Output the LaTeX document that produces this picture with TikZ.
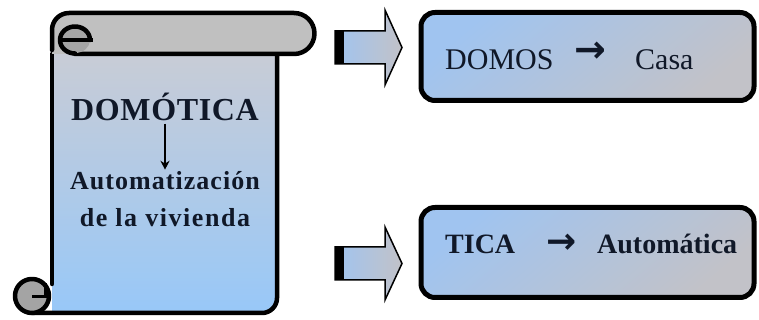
\documentclass[tikz,border=0pt]{standalone}
\usepackage{fontspec}
\setmainfont{Liberation Serif}
\newfontfamily\symfont{DejaVu Sans}
\usepackage{tikz}
\usetikzlibrary{arrows.meta, positioning}
\definecolor{rollgray}{HTML}{C0C0C0}
\definecolor{curlgray}{HTML}{A4A4A4}
\definecolor{bodytop}{HTML}{C8CCD6}
\definecolor{bodybot}{HTML}{98C8F8}
\definecolor{boxblue}{HTML}{A0C4F0}
\definecolor{boxgray}{HTML}{C2C2C8}
\definecolor{ink}{HTML}{101828}
\tikzset{
    scrollline/.style={line width=4.5pt, line join=round, line cap=round},
    textbox/.style={rectangle, rounded corners=14pt, line width=5pt, draw=black, top color=boxblue, middle color=boxgray, bottom color=boxgray, shading angle=40, minimum width=333pt, minimum height=88pt},
    blockarrow/.style={draw=black, line width=1.5pt, line join=miter, left color=boxblue, right color=boxgray},
    word/.style={inner sep=2pt, text=ink},
}

\begin{document}
\begin{tikzpicture}[x=1pt,y=1pt]
  \useasboundingbox (0,0) rectangle (759,320);

  % scroll body
  \fill[top color=bodytop, bottom color=bodybot] (52,266) -- (52,7) -- (262,7) arc[start angle=-90,end angle=0,radius=15] -- (277,266) -- cycle;
  \draw[scrollline] (52,266) -- (52,36);
  \draw[scrollline] (32,7) -- (262,7) arc[start angle=-90,end angle=0,radius=15] -- (277,266);
  % bottom curl
  \draw[scrollline, fill=curlgray] (32,24) circle[radius=17];
  \draw[line width=3pt] (32,23) -- (49,23) (45,23) -- (45,37);

  % top roll
  \fill[rollgray] (52,266) -- (52,290) arc[start angle=180,end angle=90,radius=17] -- (294,307) arc[start angle=90,end angle=-90,radius=20.5] -- cycle;
  \draw[scrollline] (52,270) -- (52,290) arc[start angle=180,end angle=90,radius=17] -- (294,307) arc[start angle=90,end angle=-90,radius=20.5] -- (75,266);
  % top curl
  \fill[curlgray] (75,280) ellipse[x radius=15, y radius=13];
  \draw[scrollline] (90,280) arc[start angle=0,end angle=270,x radius=15,y radius=13.5];
  \draw[line width=4.5pt] (60,280) -- (93,280);

  % scroll text
  \node[word, anchor=base] (domotica) at (165,199) {\fontsize{32}{38}\selectfont\bfseries\addfontfeature{LetterSpace=2} DOMÓTICA};
  \node[word, anchor=base] (automat) at (165,130) {\fontsize{26}{31}\selectfont\bfseries\addfontfeature{LetterSpace=4} Automatización};
  \node[word, anchor=base] (vivienda) at (165,93) {\fontsize{26}{31}\selectfont\bfseries\addfontfeature{LetterSpace=6} de la vivienda};
  \draw[line width=1.3pt, -{Stealth[length=9pt,width=9pt]}] (domotica.south) -- (automat.north);

  % block arrows
  \draw[blockarrow] (335,256) -- (385,256) -- (385,235) -- (402,272.5) -- (385,310) -- (385,289) -- (335,289) -- cycle;
  \fill (335,256) rectangle (344,289);
  \draw[blockarrow] (335,40) -- (385,40) -- (385,20) -- (402,56.5) -- (385,93) -- (385,73) -- (335,73) -- cycle;
  \fill (335,40) rectangle (344,73);

  % boxes
  \node[textbox] (casabox) at (587.5,263.5) {};
  \node[textbox, minimum height=90pt] (autobox) at (587.5,67.5) {};

  \node[word, anchor=base west] (domos) at (443,250) {\fontsize{30}{36}\selectfont DOMOS};
  \node[word] (to1) at (590.5,268) {\symfont\fontsize{38}{44}\selectfont\bfseries →};
  \node[word, anchor=base west] (casa) at (633,250) {\fontsize{30}{36}\selectfont Casa};

  \node[word, anchor=base west] (tica) at (443,66) {\fontsize{28}{34}\selectfont\bfseries TICA};
  \node[word] (to2) at (562,76) {\symfont\fontsize{36}{42}\selectfont\bfseries →};
  \node[word, anchor=base west] (automatica) at (595,66) {\fontsize{28}{34}\selectfont\bfseries Automática};
\end{tikzpicture}
\end{document}
